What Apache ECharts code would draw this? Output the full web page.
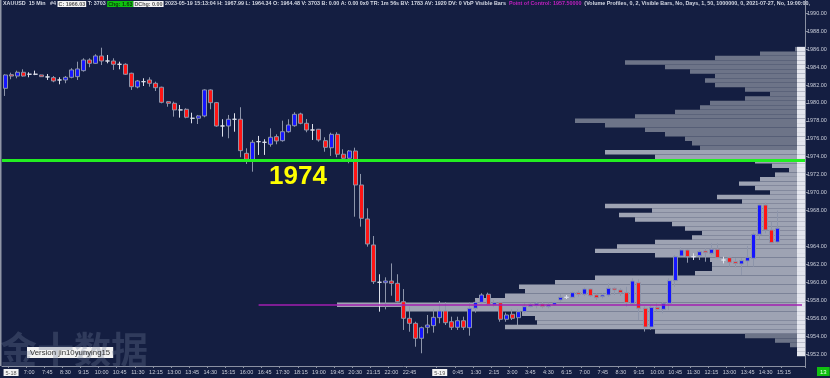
<!DOCTYPE html>
<html>
<head>
<meta charset="utf-8">
<script src="https://cdn.jsdelivr.net/npm/echarts@6/dist/echarts.min.js"></script>
<style>
html, body { margin: 0; padding: 0; background: #141e41; }
#chart { width: 830px; height: 378px; }
</style>
</head>
<body>
<div id="chart"></div>
<script>
// XAUUSD 15 Min, [open, close, low, high]
const ohlc = [
  [1981.63, 1983.12, 1980.78, 1983.20], [1983.15, 1983.00, 1982.64, 1983.37], [1983.00, 1983.42, 1982.75, 1983.60],
  [1983.42, 1983.00, 1982.93, 1983.75], [1983.20, 1983.20, 1982.86, 1983.42], [1983.20, 1983.20, 1983.10, 1983.60],
  [1983.12, 1982.93, 1982.90, 1983.15], [1982.90, 1982.90, 1982.56, 1983.23], [1982.82, 1982.45, 1982.31, 1983.00],
  [1982.56, 1982.56, 1982.08, 1982.86], [1982.56, 1982.86, 1982.20, 1983.00], [1982.86, 1983.68, 1982.75, 1983.87],
  [1982.93, 1983.79, 1982.56, 1984.60], [1983.60, 1984.79, 1983.49, 1984.98], [1984.79, 1984.42, 1983.98, 1984.98],
  [1984.42, 1985.24, 1984.35, 1985.43], [1985.24, 1984.68, 1984.23, 1986.16], [1984.68, 1984.68, 1984.42, 1985.35],
  [1984.68, 1984.31, 1983.68, 1984.98], [1984.31, 1984.31, 1983.75, 1984.60], [1984.31, 1983.20, 1983.12, 1984.42],
  [1983.31, 1981.81, 1981.45, 1983.37], [1981.78, 1982.45, 1981.63, 1982.56], [1982.37, 1982.37, 1981.89, 1982.75],
  [1982.56, 1982.19, 1981.81, 1982.86], [1982.19, 1981.70, 1981.33, 1982.37], [1981.75, 1980.07, 1979.96, 1981.81],
  [1980.14, 1979.96, 1979.58, 1980.22], [1979.96, 1979.22, 1978.47, 1980.14], [1979.22, 1979.22, 1978.36, 1979.77],
  [1979.29, 1978.40, 1978.29, 1979.40], [1978.29, 1978.29, 1977.73, 1978.91], [1978.29, 1978.55, 1977.65, 1978.66],
  [1978.55, 1981.45, 1978.40, 1981.52], [1981.45, 1980.03, 1979.29, 1981.52], [1980.03, 1977.43, 1977.35, 1980.11],
  [1977.43, 1977.43, 1976.24, 1978.18], [1977.43, 1978.18, 1976.06, 1978.66], [1978.18, 1978.18, 1976.79, 1978.85],
  [1978.18, 1974.68, 1973.94, 1979.52], [1974.38, 1973.72, 1973.19, 1974.94], [1973.64, 1975.61, 1972.33, 1975.87],
  [1975.68, 1975.68, 1974.20, 1976.32], [1975.61, 1975.61, 1974.20, 1975.95], [1975.39, 1976.17, 1975.12, 1977.17],
  [1976.24, 1975.76, 1975.39, 1976.50], [1975.79, 1976.79, 1975.68, 1978.02], [1976.79, 1977.54, 1976.68, 1978.18],
  [1977.46, 1978.73, 1977.35, 1978.96], [1978.77, 1977.73, 1977.62, 1978.91], [1977.73, 1976.98, 1976.73, 1978.21],
  [1976.98, 1976.98, 1975.87, 1977.65], [1977.06, 1975.87, 1975.68, 1977.10], [1975.79, 1975.05, 1974.56, 1976.17],
  [1975.00, 1976.50, 1974.09, 1976.68], [1976.50, 1974.28, 1973.94, 1976.73], [1974.28, 1973.83, 1973.72, 1974.83],
  [1973.83, 1974.64, 1973.27, 1974.75], [1974.64, 1970.85, 1967.31, 1975.01], [1970.85, 1967.13, 1966.20, 1972.08],
  [1967.06, 1964.27, 1963.97, 1968.25], [1964.16, 1960.07, 1959.81, 1965.16], [1960.00, 1960.00, 1956.72, 1960.89],
  [1959.95, 1960.14, 1956.98, 1960.55], [1960.14, 1959.88, 1958.50, 1962.10], [1959.88, 1957.83, 1957.76, 1960.89],
  [1957.83, 1955.98, 1954.68, 1959.24], [1955.98, 1955.42, 1954.48, 1957.27], [1955.42, 1953.75, 1952.81, 1955.60],
  [1953.75, 1954.93, 1952.08, 1955.05], [1954.98, 1955.23, 1954.30, 1956.35], [1955.16, 1956.09, 1954.38, 1956.98],
  [1956.05, 1956.80, 1955.42, 1957.91], [1956.80, 1955.49, 1955.23, 1957.76], [1955.60, 1954.98, 1954.68, 1956.16],
  [1954.98, 1955.71, 1954.68, 1956.16], [1955.71, 1954.98, 1954.68, 1956.16], [1954.93, 1957.10, 1954.04, 1957.72],
  [1957.10, 1957.76, 1956.61, 1958.02], [1957.76, 1958.58, 1957.65, 1958.77], [1958.66, 1957.54, 1957.39, 1958.84],
  [1957.47, 1957.72, 1957.27, 1958.02], [1957.72, 1955.87, 1955.60, 1957.83], [1955.87, 1956.35, 1955.60, 1956.61],
  [1956.43, 1955.98, 1955.79, 1956.98], [1956.05, 1956.72, 1955.23, 1956.98], [1956.72, 1957.28, 1956.54, 1957.65],
  [1957.28, 1957.54, 1957.20, 1957.72], [1957.39, 1957.65, 1957.10, 1957.83], [1957.58, 1957.28, 1957.10, 1957.83],
  [1957.28, 1957.54, 1957.10, 1957.72], [1957.47, 1957.72, 1957.35, 1957.83], [1958.02, 1958.32, 1957.83, 1958.69],
  [1958.32, 1958.32, 1958.13, 1958.58], [1958.32, 1958.84, 1958.21, 1958.95], [1958.84, 1958.66, 1958.39, 1959.06],
  [1958.66, 1959.25, 1958.47, 1959.40], [1959.25, 1958.50, 1958.39, 1959.33], [1958.58, 1958.28, 1958.02, 1958.77],
  [1958.39, 1958.58, 1958.21, 1958.77], [1958.58, 1959.33, 1958.39, 1959.88], [1959.33, 1959.14, 1958.58, 1959.44],
  [1959.14, 1958.84, 1958.47, 1959.33], [1958.84, 1957.72, 1957.27, 1959.50], [1957.65, 1960.14, 1957.47, 1960.44],
  [1959.95, 1957.10, 1955.79, 1960.33], [1957.10, 1955.00, 1954.50, 1957.30], [1955.00, 1957.20, 1954.70, 1957.40],
  [1957.21, 1956.98, 1956.72, 1957.65], [1956.98, 1957.65, 1956.54, 1957.83], [1957.65, 1960.18, 1956.90, 1960.44],
  [1960.18, 1962.85, 1959.50, 1963.04], [1962.93, 1963.60, 1962.85, 1963.90], [1963.60, 1962.85, 1962.18, 1963.68],
  [1962.85, 1962.85, 1962.48, 1963.23], [1962.96, 1963.41, 1962.48, 1963.60], [1963.49, 1963.30, 1962.29, 1963.79],
  [1963.23, 1963.68, 1963.04, 1964.35], [1963.68, 1962.74, 1962.67, 1964.35], [1962.48, 1962.48, 1962.10, 1962.85],
  [1962.74, 1962.23, 1961.74, 1962.85], [1962.29, 1962.10, 1961.67, 1962.67], [1962.04, 1962.41, 1960.81, 1962.67],
  [1962.37, 1962.78, 1961.82, 1964.04], [1962.67, 1965.35, 1961.74, 1965.53], [1965.35, 1968.62, 1964.79, 1968.73],
  [1968.62, 1965.83, 1965.46, 1968.88], [1965.83, 1964.41, 1964.35, 1966.75], [1964.48, 1966.03, 1964.34, 1967.99]
];

// 时间轴: 133 个位置, 标签位置和文字
const barSlots = 133;
const tickPos = [1, 4, 7, 10, 13, 16, 19, 22, 25, 28, 31, 34, 37, 40, 43, 46, 49, 52, 55, 58, 61, 64, 67,
  72, 75, 78, 81, 84, 87, 90, 93, 96, 99, 102, 105, 108, 111, 114, 117, 120, 123, 126, 129];
const tickText = ['5-18', '7:00', '7:45', '8:30', '9:15', '10:00', '10:45', '11:30', '12:15', '13:00', '13:45',
  '14:30', '15:15', '16:00', '16:45', '17:30', '18:15', '19:00', '19:45', '20:30', '21:15', '22:00', '22:45',
  '5-19', '0:45', '1:30', '2:15', '3:00', '3:45', '4:30', '6:15', '7:00', '7:45', '8:30', '9:15', '10:00',
  '10:45', '11:30', '12:15', '13:00', '13:45', '14:30', '15:15'];

// 价格轴
const priceTicks = [1952, 1954, 1956, 1958, 1960, 1962, 1964, 1968, 1970, 1972, 1974, 1976, 1978,
  1980, 1982, 1984, 1986, 1988, 1990];
const lastPrice = 1966.03;
const keyLevel = 1973.65;   // 手画线 1974
const pocPrice = 1957.5;
const pocFrom = 42;

// Volume profile (每 0.5 一档)
const profilePrices = [1986.0, 1985.5, 1985.0, 1984.5, 1984.0, 1983.5, 1983.0, 1982.5, 1982.0, 1981.5,
  1981.0, 1980.5, 1980.0, 1979.5, 1979.0, 1978.5, 1978.0, 1977.5, 1977.0, 1976.5, 1976.0, 1975.5, 1975.0,
  1974.5, 1974.0, 1973.5, 1973.0, 1972.5, 1972.0, 1971.5, 1971.0, 1970.5, 1970.0, 1969.5, 1969.0, 1968.5,
  1968.0, 1967.5, 1967.0, 1966.5, 1966.0, 1965.5, 1965.0, 1964.5, 1964.0, 1963.5, 1963.0, 1962.5, 1962.0,
  1961.5, 1961.0, 1960.5, 1960.0, 1959.5, 1959.0, 1958.5, 1958.0, 1957.5, 1957.0, 1956.5, 1956.0, 1955.5,
  1955.0, 1954.5, 1954.0, 1953.5, 1953.0, 1952.5, 1952.0];
const profileVol = [10, 45, 90, 180, 140, 115, 90, 100, 90, 60,
  35, 60, 95, 105, 130, 170, 230, 200, 160, 140, 120, 113, 105,
  200, 150, 50, 33, 16, 30, 45, 66, 50, 35, 88, 63, 200,
  153, 186, 170, 133, 120, 103, 113, 150, 188, 210, 150, 95, 93,
  93, 110, 210, 250, 286, 280, 300, 330, 468, 400, 283, 270, 268,
  300, 150, 60, 30, 15, 8, 0];
const vaHigh = 1974.5, vaLow = 1954.5;
const stripWidth = 8;

const labelMap = {};
tickPos.forEach((p, i) => { labelMap[p] = tickText[i]; });
const categories = [];
for (let i = 0; i < barSlots; i++) categories.push(String(i));

const profileData = profilePrices.map((p, i) => [profileVol[i], p]);

const axisFont = { fontSize: 5.5, fontFamily: 'Liberation Sans', color: '#c9cdd9' };
const hdr = 5.4;

const chart = echarts.init(document.getElementById('chart'), null, { renderer: 'canvas' });

chart.setOption({
  backgroundColor: '#141e41',
  animation: false,
  title: [
    {
      left: 3, top: 1, padding: 0,
      text: '{t|XAUUSD  15 Min   #4 }{w|C: 1966.03}{t| T: 3703 }{g|Chg: 1.63}{w|DChg: 0.00}' +
        '{t| 2023-05-19 15:13:04 H: 1967.99 L: 1964.34 O: 1964.48 V: 3703 B: 0.00 A: 0.00 0x0 TR: 1m 56s BV: 1783 AV: 1920 DV: 0 VbP Visible Bars  }' +
        '{m|Point of Control: 1957.50000}' +
        '{t|  (Volume Profiles, 0, 2, Visible Bars, No, Days, 1, 50, 1000000, 0, 2021-07-27, No, 19:00:00,}',
      textStyle: {
        rich: {
          t: { fontSize: hdr, fontFamily: 'Liberation Sans', color: '#d4d8e4' },
          w: { fontSize: hdr, fontFamily: 'Liberation Sans', color: '#555', backgroundColor: '#f4f4f4', padding: [1, 1, 0, 1] },
          g: { fontSize: hdr, fontFamily: 'Liberation Sans', color: '#0a3a0a', backgroundColor: '#10c010', padding: [1, 1, 0, 1] },
          m: { fontSize: hdr, fontFamily: 'Liberation Sans', color: '#c020c0' }
        }
      }
    },
    {
      text: '1974', left: 269, top: 164, padding: 0,
      textStyle: { color: '#ffff00', fontSize: 26, fontWeight: 'bold', fontFamily: 'Liberation Sans' }
    },
    {
      text: '金十数据', left: 0, top: 331, padding: 0,
      textStyle: { color: 'rgba(110,120,150,0.32)', fontSize: 37, fontWeight: 'bold', fontFamily: 'Noto Sans CJK SC' }
    },
    {
      text: 'Version jin10yunying15', left: 27, top: 347, padding: [2, 3, 1, 3],
      backgroundColor: '#f2f2f2',
      textStyle: { color: '#333', fontSize: 7.8, fontFamily: 'Liberation Sans', fontWeight: 'normal' }
    },
    {
      text: '13', left: 817, top: 367, padding: [2, 3, 1, 3],
      backgroundColor: '#10c010',
      textStyle: { color: '#eaffea', fontSize: 6, fontFamily: 'Liberation Sans', fontWeight: 'normal' }
    }
  ],
  grid: { left: 2, right: 25, top: 0, bottom: 12, containLabel: false },
  xAxis: [
    {
      type: 'category',
      data: categories,
      boundaryGap: true,
      axisLine: { lineStyle: { color: '#8a90a2', width: 1 } },
      axisTick: {
        show: true, length: 2, lineStyle: { color: '#8a90a2' },
        interval: (idx) => labelMap[idx] !== undefined
      },
      axisLabel: {
        ...axisFont, margin: 3,
        interval: (idx) => labelMap[idx] !== undefined,
        formatter: (v, idx) => {
          const s = labelMap[idx];
          if (s === undefined) return '';
          return s.indexOf('-') > 0 ? '{d|' + s + '}' : s;
        },
        rich: {
          d: { fontSize: 5.5, fontFamily: 'Liberation Sans', color: '#555', backgroundColor: '#f4f4f4', padding: [1, 2, 0, 2] }
        }
      },
      splitLine: { show: false }
    },
    {
      type: 'value', min: 0, max: 803, inverse: true, show: false,
      splitLine: { show: false }
    }
  ],
  yAxis: {
    type: 'value',
    position: 'right',
    min: 1950.66,
    max: 1991.48,
    scale: true,
    axisLine: { show: true, lineStyle: { color: '#8a90a2', width: 1 } },
    axisTick: { show: true, customValues: priceTicks, length: 3, lineStyle: { color: '#8a90a2' } },
    axisLabel: {
      ...axisFont, margin: 2,
      customValues: priceTicks,
      formatter: (v) => v.toFixed(2)
    },
    splitLine: { show: false }
  },
  series: [
    {
      name: 'profile',
      type: 'custom',
      xAxisIndex: 1,
      yAxisIndex: 0,
      data: profileData,
      silent: true,
      z: 1,
      renderItem: function (params, api) {
        const v = api.value(0), p = api.value(1);
        const a = api.coord([v, p + 0.25]);
        const b = api.coord([0, p - 0.25]);
        const s = api.coord([stripWidth, p + 0.25]);
        const inVA = p <= vaHigh && p >= vaLow;
        const x1 = b[0];
        return {
          type: 'group',
          children: [
            {
              type: 'rect',
              shape: { x: a[0], y: a[1], width: x1 - a[0], height: b[1] - a[1] },
              style: { fill: inVA ? '#9ea3b3' : '#6d7488' }
            },
            {
              type: 'rect',
              shape: { x: s[0], y: s[1], width: x1 - s[0], height: b[1] - s[1] },
              style: { fill: '#e4e6ee' }
            }
          ]
        };
      }
    },
    {
      name: 'XAUUSD',
      type: 'candlestick',
      data: ohlc.map(d => [d[0], d[1], d[2], d[3]]),
      barWidth: 4.5,
      z: 3,
      itemStyle: {
        color: '#1515ff',
        color0: '#ff1515',
        borderColor: '#8d95aa',
        borderColor0: '#8d95aa',
        borderColorDoji: '#dde0ea',
        borderWidth: 1
      },
      markLine: {
        silent: true,
        symbol: ['none', 'none'],
        z: 5,
        data: [
          {
            yAxis: keyLevel,
            lineStyle: { color: '#22ee22', width: 3, type: 'solid' },
            label: { show: false }
          },
          [
            { coord: [pocFrom, pocPrice], lineStyle: { color: '#a21fb0', width: 1.5, type: 'solid' }, label: { show: false } },
            { coord: [barSlots - 1, pocPrice] }
          ],
          {
            yAxis: lastPrice,
            lineStyle: { opacity: 0 },
            label: {
              show: true, position: 'end', distance: 1,
              formatter: lastPrice.toFixed(2),
              color: '#ff9a1a', backgroundColor: '#000', padding: [2, 2, 1, 2],
              fontSize: 5.5, fontFamily: 'Liberation Sans'
            }
          }
        ]
      }
    }
  ],
  graphic: [
    { type: 'rect', shape: { x: 0, y: 0, width: 1.5, height: 366 }, style: { fill: '#9096a6' }, z: 10 }
  ]
});
</script>
</body>
</html>
